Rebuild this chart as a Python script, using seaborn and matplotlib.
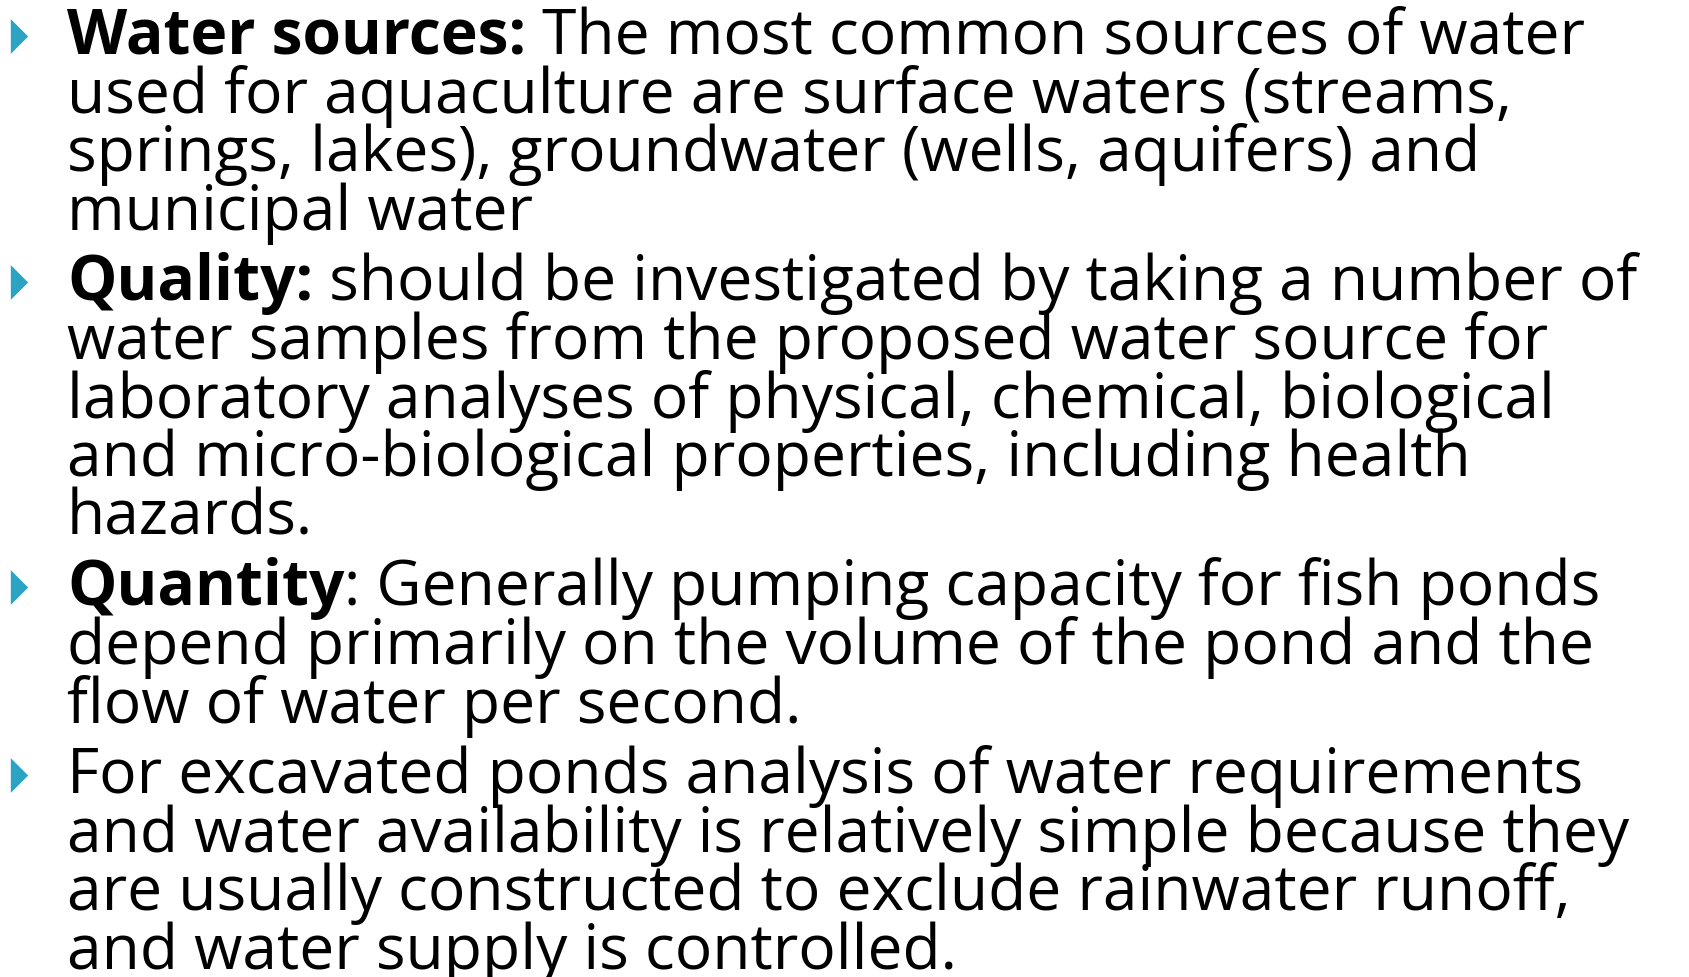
import matplotlib
matplotlib.use("Agg")
import matplotlib.pyplot as plt
import seaborn as sns

# Slide text, one list per bullet
bold_heads = ["Water sources:", "Quality:", "Quantity", ""]
first_rest = [" The most common sources of water",
              " should be investigated by taking a number of",
              ": Generally pumping capacity for fish ponds",
              "For excavated ponds analysis of water requirements"]
water_lines = ["used for aquaculture are surface waters (streams,",
               "springs, lakes), groundwater (wells, aquifers) and",
               "municipal water"]
quality_lines = ["water samples from the proposed water source for",
                 "laboratory analyses of physical, chemical, biological",
                 "and micro-biological properties, including health",
                 "hazards."]
quantity_lines = ["depend primarily on the volume of the pond and the",
                  "flow of water per second."]
excavated_lines = ["and water availability is relatively simple because they",
                   "are usually constructed to exclude rainwater runoff,",
                   "and water supply is controlled."]
body_lines = [water_lines, quality_lines, quantity_lines, excavated_lines]

sns.set_theme(style="white")
plt.rcParams['font.family'] = ['Open Sans', 'DejaVu Sans']

W, H = 1690, 978
fig = plt.figure(figsize=(W / 100, H / 100), dpi=100)
ax = fig.add_axes([0, 0, 1, 1])
ax.set_xlim(0, W)
ax.set_ylim(H, 0)
ax.axis("off")

text_x = 67
top = 54
line_h = 58.6
para_gap = 12
fs = 44
bullet_col = "#2BA3C2"

texts = []
first_line_end = None
y = top
for i in range(len(bold_heads)):
    # bullet marker
    ax.scatter([19], [y - 17], marker=[(-0.5, -1), (0.5, 0), (-0.5, 1)],
               s=25 ** 2, color=bullet_col, linewidths=0)
    if bold_heads[i]:
        head = ax.text(text_x, y, bold_heads[i], fontsize=fs, fontweight="bold",
                       va="baseline", ha="left", color="black")
        rest = ax.annotate(first_rest[i], xy=(1, 0), xycoords=head, fontsize=fs,
                           va="bottom", ha="left", color="black")
        texts += [head, rest]
    else:
        rest = ax.text(text_x, y, first_rest[i], fontsize=fs, va="baseline",
                       ha="left", color="black")
        texts.append(rest)
    if i == 0:
        first_line_end = rest
    for line in body_lines[i]:
        y += line_h
        texts.append(ax.text(text_x, y, line, fontsize=fs, va="baseline",
                             ha="left", color="black"))
    y += line_h + para_gap

# fit the font size so the first line ends where it does on the slide
fig.canvas.draw()
r = fig.canvas.get_renderer()
right = first_line_end.get_window_extent(r).x1
scale = (1586 - text_x) / (right - text_x)
for t in texts:
    t.set_fontsize(fs * scale)

fig.savefig("out.png", dpi=100, facecolor="white")
